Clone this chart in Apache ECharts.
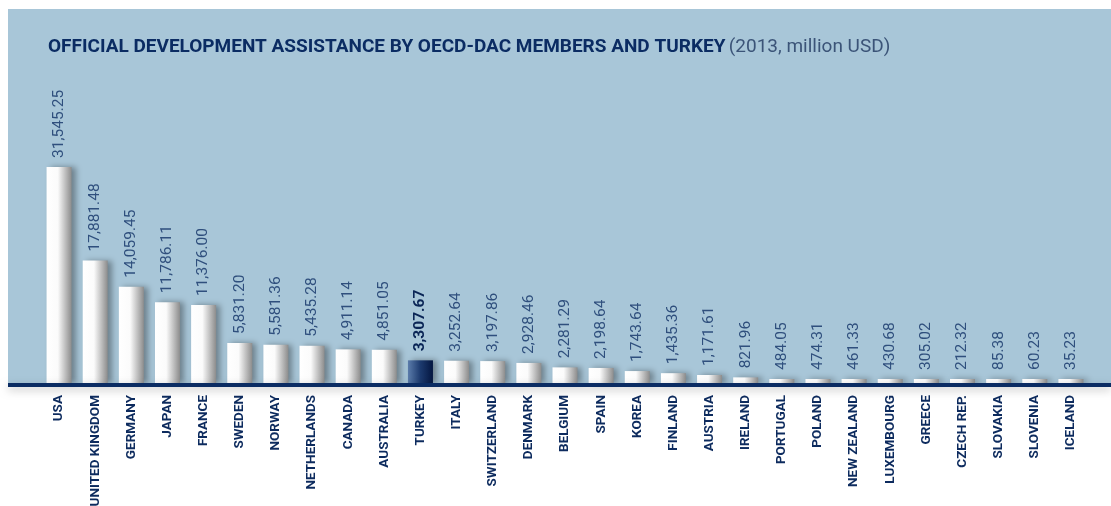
<!DOCTYPE html>
<html>
<head>
<meta charset="utf-8">
<script src="https://cdn.jsdelivr.net/npm/echarts@6/dist/echarts.min.js"></script>
<style>
  html, body { margin: 0; padding: 0; background: #fff; }
  #chart { width: 1111px; height: 506px; }
</style>
</head>
<body>
<div id="chart"></div>
<script>
const countries = ['USA', 'UNITED KINGDOM', 'GERMANY', 'JAPAN', 'FRANCE', 'SWEDEN', 'NORWAY', 'NETHERLANDS',
  'CANADA', 'AUSTRALIA', 'TURKEY', 'ITALY', 'SWITZERLAND', 'DENMARK', 'BELGIUM', 'SPAIN', 'KOREA',
  'FINLAND', 'AUSTRIA', 'IRELAND', 'PORTUGAL', 'POLAND', 'NEW ZEALAND', 'LUXEMBOURG', 'GREECE',
  'CZECH REP.', 'SLOVAKIA', 'SLOVENIA', 'ICELAND']
const oda = [31545.25, 17881.48, 14059.45, 11786.11, 11376.00, 5831.20, 5581.36, 5435.28,
  4911.14, 4851.05, 3307.67, 3252.64, 3197.86, 2928.46, 2281.29, 2198.64, 1743.64,
  1435.36, 1171.61, 821.96, 484.05, 474.31, 461.33, 430.68, 305.02,
  212.32, 85.38, 60.23, 35.23]
const highlight = 'TURKEY'

const chart = echarts.init(document.getElementById('chart'))

const whiteBar = {
  color: new echarts.graphic.LinearGradient(0, 0, 1, 0, [
    { offset: 0, color: '#ffffff' },
    { offset: 0.45, color: '#fbfbfb' },
    { offset: 1, color: '#8c8c8c' }
  ]),
  shadowColor: 'rgba(0,0,0,0.35)',
  shadowBlur: 6,
  shadowOffsetX: 4
}
const navyBar = {
  color: new echarts.graphic.LinearGradient(0, 0, 1, 0, [
    { offset: 0, color: '#5b7cab' },
    { offset: 0.5, color: '#1c3a6e' },
    { offset: 1, color: '#041640' }
  ]),
  shadowColor: 'rgba(0,0,0,0.35)',
  shadowBlur: 6,
  shadowOffsetX: 4
}

const fmt = v => v.toLocaleString('en-US', { minimumFractionDigits: 2, maximumFractionDigits: 2 })

const option = {
  backgroundColor: '#ffffff',
  graphic: [
    { type: 'rect', z: -10, shape: { x: 8, y: 9, width: 1103, height: 374 }, style: { fill: '#a8c6d8' } },
    { type: 'rect', z: 10, shape: { x: 8, y: 383, width: 1103, height: 4 },
      style: { fill: '#0b2c63', shadowColor: 'rgba(0,0,0,0.25)', shadowBlur: 8, shadowOffsetY: 3 } },
    {
      type: 'text', left: 48, top: 38,
      style: {
        text: '{b|OFFICIAL DEVELOPMENT ASSISTANCE BY OECD-DAC MEMBERS AND TURKEY} {n|(2013, million USD)}',
        rich: {
          b: { fontFamily: 'Roboto', fontWeight: 'bold', fontSize: 19, fill: '#0b2c63' },
          n: { fontFamily: 'Roboto', fontWeight: 'normal', fontSize: 19, fill: '#3b5478' }
        }
      }
    }
  ],
  grid: { left: 41, right: 22, top: 109, bottom: 123, outerBoundsMode: 'none', containLabel: false },
  xAxis: {
    type: 'category',
    data: countries,
    axisLine: { show: false },
    axisTick: { show: false },
    axisLabel: {
      interval: 0,
      rotate: 90,
      margin: 12,
      fontFamily: 'Roboto',
      fontWeight: 'bold',
      fontSize: 13.5,
      color: '#0d2b5e'
    }
  },
  yAxis: {
    type: 'value',
    min: 0,
    max: 40000,
    show: false
  },
  series: [{
    type: 'bar',
    barWidth: 25,
    barMinHeight: 4,
    data: oda.map((v, i) => ({
      value: v,
      itemStyle: countries[i] === highlight ? navyBar : whiteBar,
      label: countries[i] === highlight ? { fontWeight: 'bold', color: '#0a2556' } : {}
    })),
    label: {
      show: true,
      position: 'top',
      rotate: 90,
      align: 'left',
      verticalAlign: 'middle',
      distance: 9,
      fontFamily: 'Roboto',
      fontSize: 15.5,
      color: '#2f4f7d',
      formatter: p => fmt(p.value)
    }
  }]
}

chart.setOption(option)
</script>
</body>
</html>
